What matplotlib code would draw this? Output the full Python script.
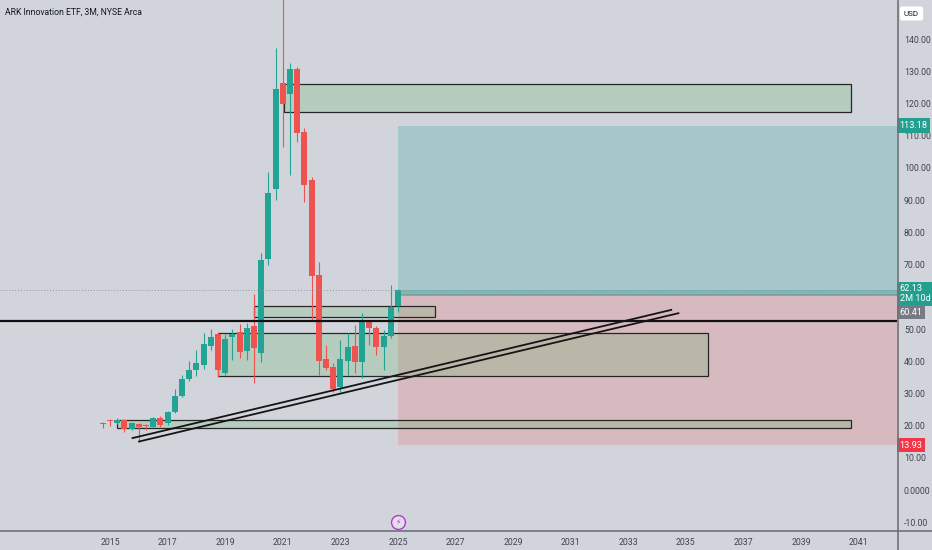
import matplotlib.pyplot as plt
import matplotlib.lines as mlines
import pandas as pd

# quarterly candles, ARKK 3M
quarters = pd.period_range('2014Q4', '2025Q1', freq='Q')
opens = [20.8, 21.6, 20.8, 21.7, 18.9, 20.4, 20.0, 19.7, 22.5, 20.7, 24.3, 29.3,
         34.6, 37.3, 38.8, 44.8, 48.4, 36.4, 47.6, 49.0, 43.3, 50.9, 42.6, 71.6,
         93.4, 126.3, 123.0, 130.7, 111.1, 96.3, 66.9, 40.6, 38.3, 31.9, 40.1, 44.7,
         39.8, 52.3, 50.2, 44.3, 47.9, 57.1]
highs = [21.0, 22.2, 22.4, 22.0, 21.2, 20.9, 20.5, 22.7, 23.0, 24.6, 31.3, 35.6,
         40.2, 43.5, 48.8, 50.0, 49.2, 48.6, 50.0, 51.5, 52.0, 61.0, 73.6, 98.9,
         137.2, 159.7, 132.7, 131.5, 112.5, 97.3, 70.9, 45.0, 39.3, 46.6, 48.7, 51.2,
         54.9, 52.8, 51.0, 49.7, 63.7, 62.4]
lows = [19.3, 19.9, 20.5, 18.1, 18.6, 15.0, 18.6, 19.5, 19.7, 20.3, 24.0, 28.9,
        33.8, 35.5, 37.5, 43.5, 35.2, 35.8, 40.4, 41.0, 40.4, 33.3, 39.8, 70.0,
        90.0, 106.6, 97.8, 108.0, 89.5, 52.8, 35.7, 37.3, 30.5, 30.5, 35.7, 36.2,
        34.7, 45.0, 41.9, 37.3, 47.2, 55.4]
closes = [20.6, 21.4, 21.6, 18.9, 20.7, 19.5, 19.8, 22.3, 20.2, 24.1, 29.2, 34.5,
          37.3, 39.3, 45.3, 47.6, 37.3, 47.0, 48.4, 43.0, 50.2, 44.0, 71.4, 92.1,
          124.4, 119.9, 130.6, 110.8, 94.7, 66.5, 40.2, 37.8, 31.4, 40.6, 44.3, 39.8,
          52.8, 50.2, 44.3, 47.9, 56.9, 62.13]

# drawings
boxes_x0 = [2021.04, 2020.0, 2018.75, 2015.25]
boxes_x1 = [2040.73, 2026.28, 2035.76, 2040.73]
boxes_lo = [117.4, 53.8, 35.5, 19.2]
boxes_hi = [126.1, 57.2, 48.7, 21.7]
trend_x = [[2015.75, 2034.52], [2015.98, 2034.77]]
trend_y = [[16.06, 56.0], [15.0, 54.97]]
level = 52.5
entry, target, stop, last = 60.41, 113.18, 13.93, 62.13
entry_date = 2025.0

yticks = [140, 130, 120, 110, 100, 90, 80, 70, 50, 40, 30, 20, 10, 0, -10]
ytick_labels = ['140.00', '130.00', '120.00', '110.00', '100.00', '90.00', '80.00',
                '70.00', '50.00', '40.00', '30.00', '20.00', '10.00', '0.0000', '-10.00']
years = list(range(2015, 2042, 2))

BG = '#d1d4db'
UP = '#22a394'
DOWN = '#ef5350'
TXT = '#41444d'

plt.rcParams['font.family'] = ['Roboto', 'DejaVu Sans']

W, H = 932, 550
fig = plt.figure(figsize=(W / 100, H / 100), dpi=100, facecolor=BG)
ax = fig.add_axes([0, 19 / H, 897 / W, 531 / H], facecolor=BG)
x_left, x_right = 2011.18, 2042.33
ax.set_xlim(x_left, x_right)
ax.set_ylim(-12.73, 152.17)

# long position tool
ax.fill_between([entry_date, x_right], entry, target, color=UP, alpha=0.25, lw=0, zorder=1)
ax.fill_between([entry_date, x_right], entry, last, color=UP, alpha=0.35, lw=0, zorder=1)
ax.fill_between([entry_date, x_right], stop, entry, color=DOWN, alpha=0.2, lw=0, zorder=1)
ax.plot([entry_date, x_right], [entry, entry], color='#8a9a9a', lw=1.2, zorder=1)

# zones
for x0, x1, lo, hi in zip(boxes_x0, boxes_x1, boxes_lo, boxes_hi):
    ax.add_patch(plt.Rectangle((x0, lo), x1 - x0, hi - lo, facecolor='#4caf50',
                               alpha=0.2, lw=0, zorder=2))
    ax.add_patch(plt.Rectangle((x0, lo), x1 - x0, hi - lo, facecolor='none',
                               edgecolor='#262626', lw=0.9, zorder=2))

# candles
xs = [q.year + (q.quarter - 1) / 4 for q in quarters]
cols = [UP if c >= o else DOWN for o, c in zip(opens, closes)]
ax.vlines(xs, lows, highs, colors=cols, lw=0.8, zorder=3)
bottoms = [min(o, c) for o, c in zip(opens, closes)]
heights = [max(abs(c - o), 0.35) for o, c in zip(opens, closes)]
ax.bar(xs, heights, bottom=bottoms, width=0.21, color=cols, lw=0, zorder=4)

# lines
ax.axhline(last, color='#8e959c', lw=0.7, ls=(0, (1, 2)), zorder=5)
ax.axhline(level, color='#111111', lw=1.6, zorder=6)
for tx, ty in zip(trend_x, trend_y):
    ax.plot(tx, ty, color='#151515', lw=1.3, zorder=6, solid_capstyle='butt')

for s in ax.spines.values():
    s.set_visible(False)
ax.set_xticks(years)
ax.set_xticklabels([str(y) for y in years], fontsize=6.3, color=TXT)
ax.tick_params(axis='x', length=0, pad=5)
ax.yaxis.tick_right()
ax.set_yticks(yticks)
ax.set_yticklabels(ytick_labels, fontsize=6.3, color=TXT)
ax.tick_params(axis='y', length=0, pad=5)

# frame lines of the price and time scales
fig.add_artist(mlines.Line2D([0, 1], [19 / H, 19 / H], color='#6f727b', lw=1.2))
fig.add_artist(mlines.Line2D([897.5 / W, 897.5 / W], [0, 1], color='#6f727b', lw=1.2))

# price scale labels
trans = ax.get_yaxis_transform()
def tag(y, text, color, dy=0):
    ax.text(1.003, y + dy, text, transform=trans, fontsize=6.6, color='white',
            va='center', ha='left', zorder=10, clip_on=False, linespacing=1.1,
            bbox=dict(boxstyle='square,pad=0.3', fc=color, ec='none'))

tag(target, '113.18', '#22a08f')
tag(last, '62.13\n2M 10d', '#22a08f', dy=-1.2)
tag(entry, '60.41', '#787b86', dy=-5.2)
tag(stop, '13.93', '#f23645')

fig.text(904 / W, 1 - 13.5 / H, 'USD', fontsize=5.8, color='#131722', va='center',
         bbox=dict(boxstyle='round,pad=0.5,rounding_size=0.3', fc='white', ec='none'))
fig.text(5 / W, 1 - 12 / H, 'ARK Innovation ETF, 3M, NYSE Arca', fontsize=6.2,
         color='#131722', va='center')

# event marker
ax.plot([entry_date], [-9.9], 'o', ms=10, mfc='#e6dcef', mec='#b03fc4', mew=1.0,
        zorder=8, clip_on=False)
ax.text(entry_date, -9.9, '\u26a1', fontsize=5.5, color='#b03fc4', ha='center',
        va='center', zorder=9, family='DejaVu Sans')

fig.savefig('out.png', dpi=100, facecolor=BG)
